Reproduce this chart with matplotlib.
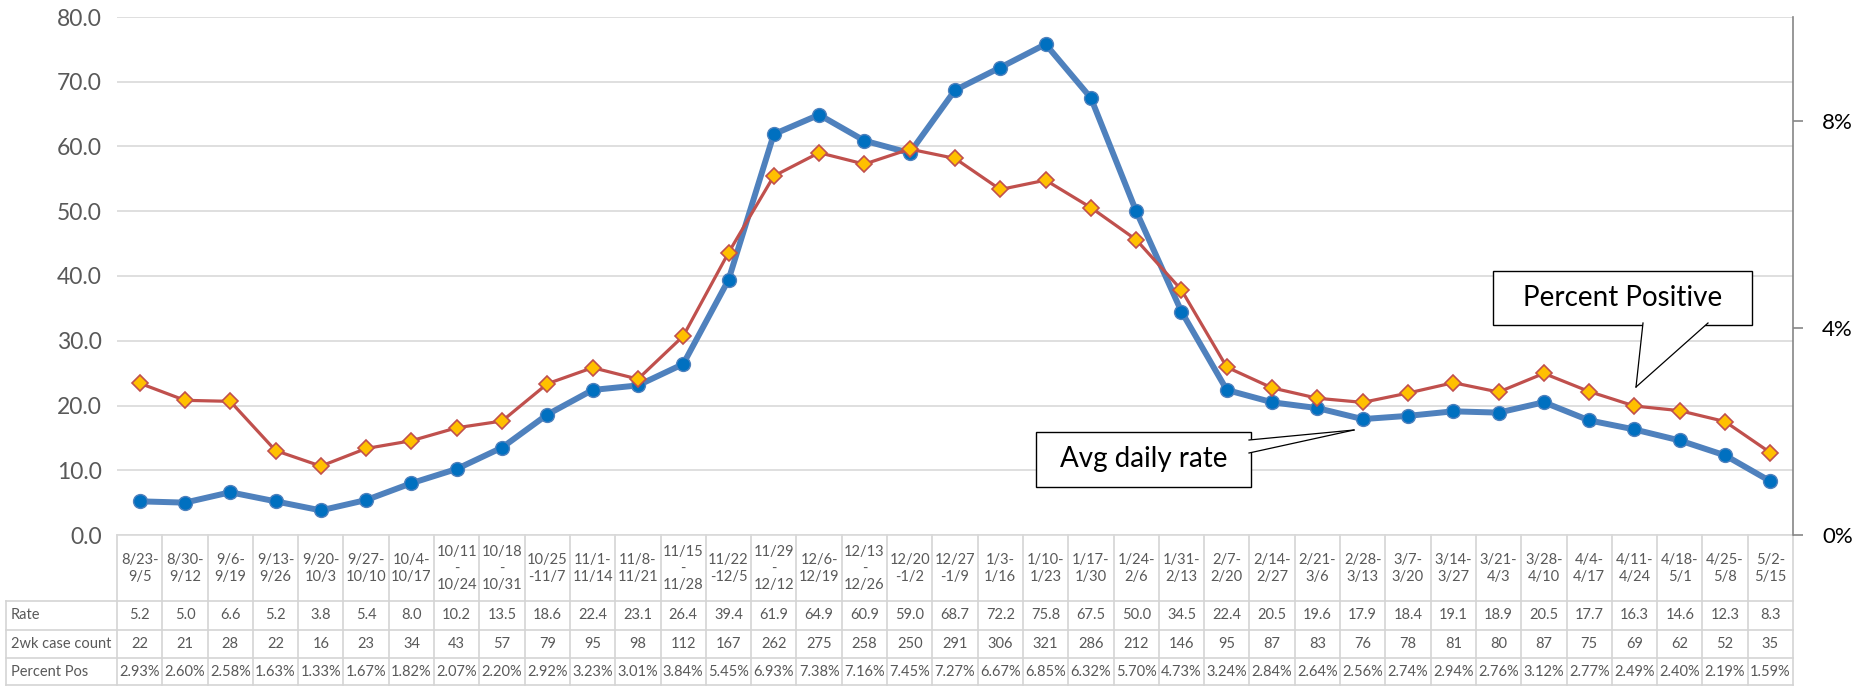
import matplotlib
matplotlib.use("Agg")
import matplotlib.pyplot as plt
from matplotlib.transforms import blended_transform_factory
from matplotlib.patches import Rectangle, Polygon
from matplotlib.lines import Line2D

plt.rcParams['font.family'] = ['Lato', 'DejaVu Sans']

# two-week windows (table header)
periods = ["8/23-\n9/5", "8/30-\n9/12", "9/6-\n9/19", "9/13-\n9/26", "9/20-\n10/3",
           "9/27-\n10/10", "10/4-\n10/17", "10/11\n-\n10/24", "10/18\n-\n10/31",
           "10/25\n-11/7", "11/1-\n11/14", "11/8-\n11/21", "11/15\n-\n11/28",
           "11/22\n-12/5", "11/29\n-\n12/12", "12/6-\n12/19", "12/13\n-\n12/26",
           "12/20\n-1/2", "12/27\n-1/9", "1/3-\n1/16", "1/10-\n1/23", "1/17-\n1/30",
           "1/24-\n2/6", "1/31-\n2/13", "2/7-\n2/20", "2/14-\n2/27", "2/21-\n3/6",
           "2/28-\n3/13", "3/7-\n3/20", "3/14-\n3/27", "3/21-\n4/3", "3/28-\n4/10",
           "4/4-\n4/17", "4/11-\n4/24", "4/18-\n5/1", "4/25-\n5/8", "5/2-\n5/15"]

rate = [5.2, 5.0, 6.6, 5.2, 3.8, 5.4, 8.0, 10.2, 13.5, 18.6,
        22.4, 23.1, 26.4, 39.4, 61.9, 64.9, 60.9, 59.0, 68.7, 72.2,
        75.8, 67.5, 50.0, 34.5, 22.4, 20.5, 19.6, 17.9, 18.4, 19.1,
        18.9, 20.5, 17.7, 16.3, 14.6, 12.3, 8.3]

case_count = [22, 21, 28, 22, 16, 23, 34, 43, 57, 79,
              95, 98, 112, 167, 262, 275, 258, 250, 291, 306,
              321, 286, 212, 146, 95, 87, 83, 76, 78, 81,
              80, 87, 75, 69, 62, 52, 35]

pct_pos = [2.93, 2.60, 2.58, 1.63, 1.33, 1.67, 1.82, 2.07, 2.20, 2.92,
           3.23, 3.01, 3.84, 5.45, 6.93, 7.38, 7.16, 7.45, 7.27, 6.67,
           6.85, 6.32, 5.70, 4.73, 3.24, 2.84, 2.64, 2.56, 2.74, 2.94,
           2.76, 3.12, 2.77, 2.49, 2.40, 2.19, 1.59]

row_names = ["Rate", "2wk case count", "Percent Pos"]

W, H = 1873, 686
L, R, T, B = 117, 1793, 17, 535   # plot area in pixels

fig = plt.figure(figsize=(W / 100, H / 100), dpi=100)
ax = fig.add_axes([L / W, 1 - B / H, (R - L) / W, (B - T) / H])
x = list(range(len(periods)))

# avg daily rate (left axis)
ax.plot(x, rate, color='#4F81BD', lw=4.3, marker='o', ms=10, mfc='#0070C0',
        mec='#4F81BD', mew=1, zorder=3)
ax.set_xlim(-0.5, len(periods) - 0.5)
ax.set_ylim(0, 80)
ax.set_yticks(range(0, 81, 10))
ax.set_yticklabels([f"{v:.1f}" for v in range(0, 81, 10)])
ax.yaxis.grid(True, color='#D9D9D9', lw=1.2)
ax.set_axisbelow(True)
ax.tick_params(axis='y', length=0, pad=11, labelsize=16.5, labelcolor='#595959')
ax.set_xticks([])
for s in ['top', 'left', 'right']:
    ax.spines[s].set_visible(False)
ax.spines['bottom'].set_color('#D9D9D9')
ax.spines['bottom'].set_linewidth(1.2)

# percent positive (right axis)
ax2 = ax.twinx()
ax2.plot(x, pct_pos, color='#C0504D', lw=2.3, marker='D', ms=8, mfc='#FFC000',
         mec='#C0504D', mew=1.2)
ax2.set_ylim(0, 10)
ax2.set_yticks([0, 4, 8])
ax2.set_yticklabels(["0%", "4%", "8%"])
ax2.tick_params(axis='y', length=7, width=1.2, color='#868686', pad=14,
                labelsize=16, labelcolor='#000000')
for s in ['top', 'left', 'bottom']:
    ax2.spines[s].set_visible(False)
ax2.spines['right'].set_color('#868686')
ax2.spines['right'].set_linewidth(1.2)

# data table under the chart
def fy(py):
    return (B - py) / (B - T)

def fx(px):
    return (px - L) / (R - L)

ta = ax.transAxes
tb = blended_transform_factory(ax.transData, ax.transAxes)
grid_c = '#D4D4D4'
rows_px = [535, 601, 629.5, 658, 685]

for py in rows_px[1:]:
    ax.add_line(Line2D([fx(6), 1], [fy(py)] * 2, transform=ta, color=grid_c,
                       lw=1.2, clip_on=False))
for i in range(len(periods) + 1):
    ax.add_line(Line2D([i - 0.5] * 2, [fy(rows_px[0]), fy(rows_px[-1])], transform=tb,
                       color=grid_c, lw=1.2, clip_on=False))
ax.add_line(Line2D([fx(6)] * 2, [fy(rows_px[1]), fy(rows_px[-1])], transform=ta,
                   color=grid_c, lw=1.2, clip_on=False))

txt_c = '#595959'
for i, p in enumerate(periods):
    ax.text(i, fy(568.5), p, transform=tb, ha='center', va='center', fontsize=10.5,
            color=txt_c, linespacing=1.25, clip_on=False)

row_vals = [[f"{v:.1f}" for v in rate],
            [str(v) for v in case_count],
            [f"{v:.2f}%" for v in pct_pos]]
for r, (name, vals) in enumerate(zip(row_names, row_vals)):
    yc = fy((rows_px[r + 1] + rows_px[r + 2]) / 2)
    ax.text(fx(11), yc, name, transform=ta, ha='left', va='center', fontsize=10.5,
            color=txt_c, clip_on=False)
    for i, v in enumerate(vals):
        ax.text(i, yc, v, transform=tb, ha='center', va='center', fontsize=10.5,
                color=txt_c, clip_on=False)

# callouts
def fp(px, py):
    return (px / W, 1 - py / H)

def callout(box, base1, base2, tip, text):
    x0, y0, x1, y1 = box
    fig.add_artist(Rectangle(fp(x0, y1), (x1 - x0) / W, (y1 - y0) / H,
                             transform=fig.transFigure, facecolor='white',
                             edgecolor='black', lw=1, zorder=5))
    fig.add_artist(Polygon([fp(*base1), fp(*tip), fp(*base2)], closed=True,
                           transform=fig.transFigure, facecolor='white',
                           edgecolor='none', zorder=6))
    for b in (base1, base2):
        fig.add_artist(Line2D([fp(*b)[0], fp(*tip)[0]], [fp(*b)[1], fp(*tip)[1]],
                              transform=fig.transFigure, color='black', lw=0.9, zorder=7))
    cx, cy = fp((x0 + x1) / 2, (y0 + y1) / 2)
    fig.text(cx, cy, text, ha='center', va='center', fontsize=20, color='black', zorder=8)

callout((1036, 432, 1251, 487), (1249, 440), (1249, 453), (1354, 430), "Avg daily rate")
callout((1493, 271, 1752, 325), (1643, 323), (1708, 323), (1636, 387), "Percent Positive")

fig.savefig("out.png", dpi=100)
